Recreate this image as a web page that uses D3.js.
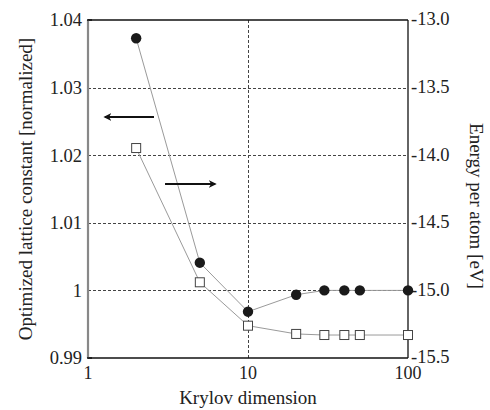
<!DOCTYPE html>
<html>
<head>
<meta charset="utf-8">
<script src="https://cdn.jsdelivr.net/npm/d3@7"></script>
<style>
  body { margin: 0; background: #fff; }
  text { font-family: "Liberation Serif", "Times New Roman", serif; fill: #222; }
</style>
</head>
<body>
<div id="chart"></div>
<script>
// Krylov dimension (x, log scale)
const krylov = [2, 5, 10, 20, 30, 40, 50, 100];
// optimized lattice constant, left axis (filled circles)
const lattice = [1.0373, 1.0041, 0.99685, 0.99936, 1.0, 1.0, 1.0, 1.0];
// energy per atom, right axis (open squares)
const energy = [-13.947, -14.940, -15.261, -15.322, -15.330, -15.330, -15.330, -15.330];

const leftTicks = [0.99, 1, 1.01, 1.02, 1.03, 1.04];
const leftLabels = ["0.99", "1", "1.01", "1.02", "1.03", "1.04"];
const rightTicks = [-15.5, -15.0, -14.5, -14.0, -13.5, -13.0];
const xTicks = [1, 10, 100];

// arrows pointing to the axis each series uses
const arrows = [
    { from: 2.585, to: 1.277, y: 1.02565 },
    { from: 3.03, to: 6.23, y: 1.01574 }
];

const W = 490, H = 410;
const m = { left: 88, right: 82, top: 20, bottom: 52 };

const svg = d3.select("#chart").append("svg")
    .attr("width", W).attr("height", H);

const x = d3.scaleLog().domain([1, 100]).range([m.left, W - m.right]);
const yL = d3.scaleLinear().domain([0.99, 1.04]).range([H - m.bottom, m.top]);
const yR = d3.scaleLinear().domain([-15.5, -13.0]).range([H - m.bottom, m.top]);

svg.append("defs").append("marker")
    .attr("id", "head")
    .attr("viewBox", "0 0 10 10")
    .attr("refX", 8).attr("refY", 5)
    .attr("markerWidth", 4).attr("markerHeight", 4)
    .attr("orient", "auto")
    .append("path")
    .attr("d", "M0,0 L10,5 L0,10 L3,5 Z")
    .attr("fill", "#111");

// grid
svg.append("g").selectAll("line")
    .data(leftTicks.slice(1, -1))
    .enter().append("line")
    .attr("x1", m.left).attr("x2", W - m.right)
    .attr("y1", d => Math.round(yL(d)) + 0.5).attr("y2", d => Math.round(yL(d)) + 0.5)
    .attr("stroke", "#444").attr("stroke-dasharray", "3,2");

svg.append("line")
    .attr("x1", Math.round(x(10)) + 0.5).attr("x2", Math.round(x(10)) + 0.5)
    .attr("y1", m.top).attr("y2", H - m.bottom)
    .attr("stroke", "#444").attr("stroke-dasharray", "3,2");

// frame
svg.append("line")
    .attr("x1", m.left).attr("x2", W - m.right)
    .attr("y1", m.top).attr("y2", m.top)
    .attr("stroke", "#111").attr("stroke-width", 1.3);
svg.append("line")
    .attr("x1", m.left).attr("x2", W - m.right)
    .attr("y1", H - m.bottom).attr("y2", H - m.bottom)
    .attr("stroke", "#111").attr("stroke-width", 1.3);
svg.append("line")
    .attr("x1", W - m.right).attr("x2", W - m.right)
    .attr("y1", m.top).attr("y2", H - m.bottom)
    .attr("stroke", "#111").attr("stroke-width", 1.3);
svg.append("line")
    .attr("x1", m.left).attr("x2", m.left)
    .attr("y1", m.top).attr("y2", H - m.bottom)
    .attr("stroke", "#888").attr("stroke-width", 2.2);
svg.append("line")
    .attr("x1", m.left - 1).attr("x2", m.left + 4)
    .attr("y1", m.top).attr("y2", m.top)
    .attr("stroke", "#111").attr("stroke-width", 1.5);
svg.append("line")
    .attr("x1", m.left - 1).attr("x2", m.left + 4)
    .attr("y1", H - m.bottom).attr("y2", H - m.bottom)
    .attr("stroke", "#111").attr("stroke-width", 1.5);

// tick labels
svg.append("g").selectAll("text")
    .data(leftTicks)
    .enter().append("text")
    .attr("x", m.left - 6).attr("y", d => yL(d))
    .attr("dy", "0.35em")
    .attr("text-anchor", "end")
    .attr("font-size", 18.5)
    .text((d, i) => leftLabels[i]);

svg.append("g").selectAll("text")
    .data(rightTicks)
    .enter().append("text")
    .attr("x", W - m.right + 3).attr("y", d => yR(d) - 1)
    .attr("dy", "0.35em")
    .attr("font-size", 18.5)
    .text(d => d3.format(".1f")(d).replace("\u2212", "-"));

svg.append("g").selectAll("text")
    .data(xTicks)
    .enter().append("text")
    .attr("x", d => x(d)).attr("y", H - m.bottom + 21)
    .attr("text-anchor", "middle")
    .attr("font-size", 18)
    .text(d => d);

// axis titles
svg.append("text")
    .attr("x", (m.left + W - m.right) / 2).attr("y", 404)
    .attr("text-anchor", "middle")
    .attr("font-size", 19)
    .text("Krylov dimension");

svg.append("text")
    .attr("transform", `translate(25,${(m.top + H - m.bottom) / 2}) rotate(-90)`)
    .attr("text-anchor", "middle")
    .attr("dy", "0.35em")
    .attr("font-size", 19)
    .text("Optimized lattice constant [normalized]");

svg.append("text")
    .attr("transform", `translate(477,206) rotate(90)`)
    .attr("text-anchor", "middle")
    .attr("dy", "0.35em")
    .attr("font-size", 19)
    .text("Energy per atom [eV]");

// series lines
const lineL = d3.line().x(d => x(d[0])).y(d => yL(d[1]));
const lineR = d3.line().x(d => x(d[0])).y(d => yR(d[1]));

svg.append("path")
    .datum(d3.zip(krylov, lattice))
    .attr("d", lineL)
    .attr("fill", "none").attr("stroke", "#9a9a9a").attr("stroke-width", 1);

svg.append("path")
    .datum(d3.zip(krylov, energy))
    .attr("d", lineR)
    .attr("fill", "none").attr("stroke", "#9a9a9a").attr("stroke-width", 1);

// markers
svg.append("g").selectAll("circle")
    .data(d3.zip(krylov, lattice))
    .enter().append("circle")
    .attr("cx", d => x(d[0])).attr("cy", d => yL(d[1]))
    .attr("r", 5.2)
    .attr("fill", "#1a1a1a");

svg.append("g").selectAll("rect")
    .data(d3.zip(krylov, energy))
    .enter().append("rect")
    .attr("x", d => x(d[0]) - 4.5).attr("y", d => yR(d[1]) - 4.5)
    .attr("width", 9).attr("height", 9)
    .attr("fill", "#fff").attr("stroke", "#444").attr("stroke-width", 1);

// arrows
svg.append("g").selectAll("line")
    .data(arrows)
    .enter().append("line")
    .attr("x1", d => x(d.from)).attr("x2", d => x(d.to))
    .attr("y1", d => yL(d.y)).attr("y2", d => yL(d.y))
    .attr("stroke", "#111").attr("stroke-width", 2)
    .attr("marker-end", "url(#head)");
</script>
</body>
</html>
